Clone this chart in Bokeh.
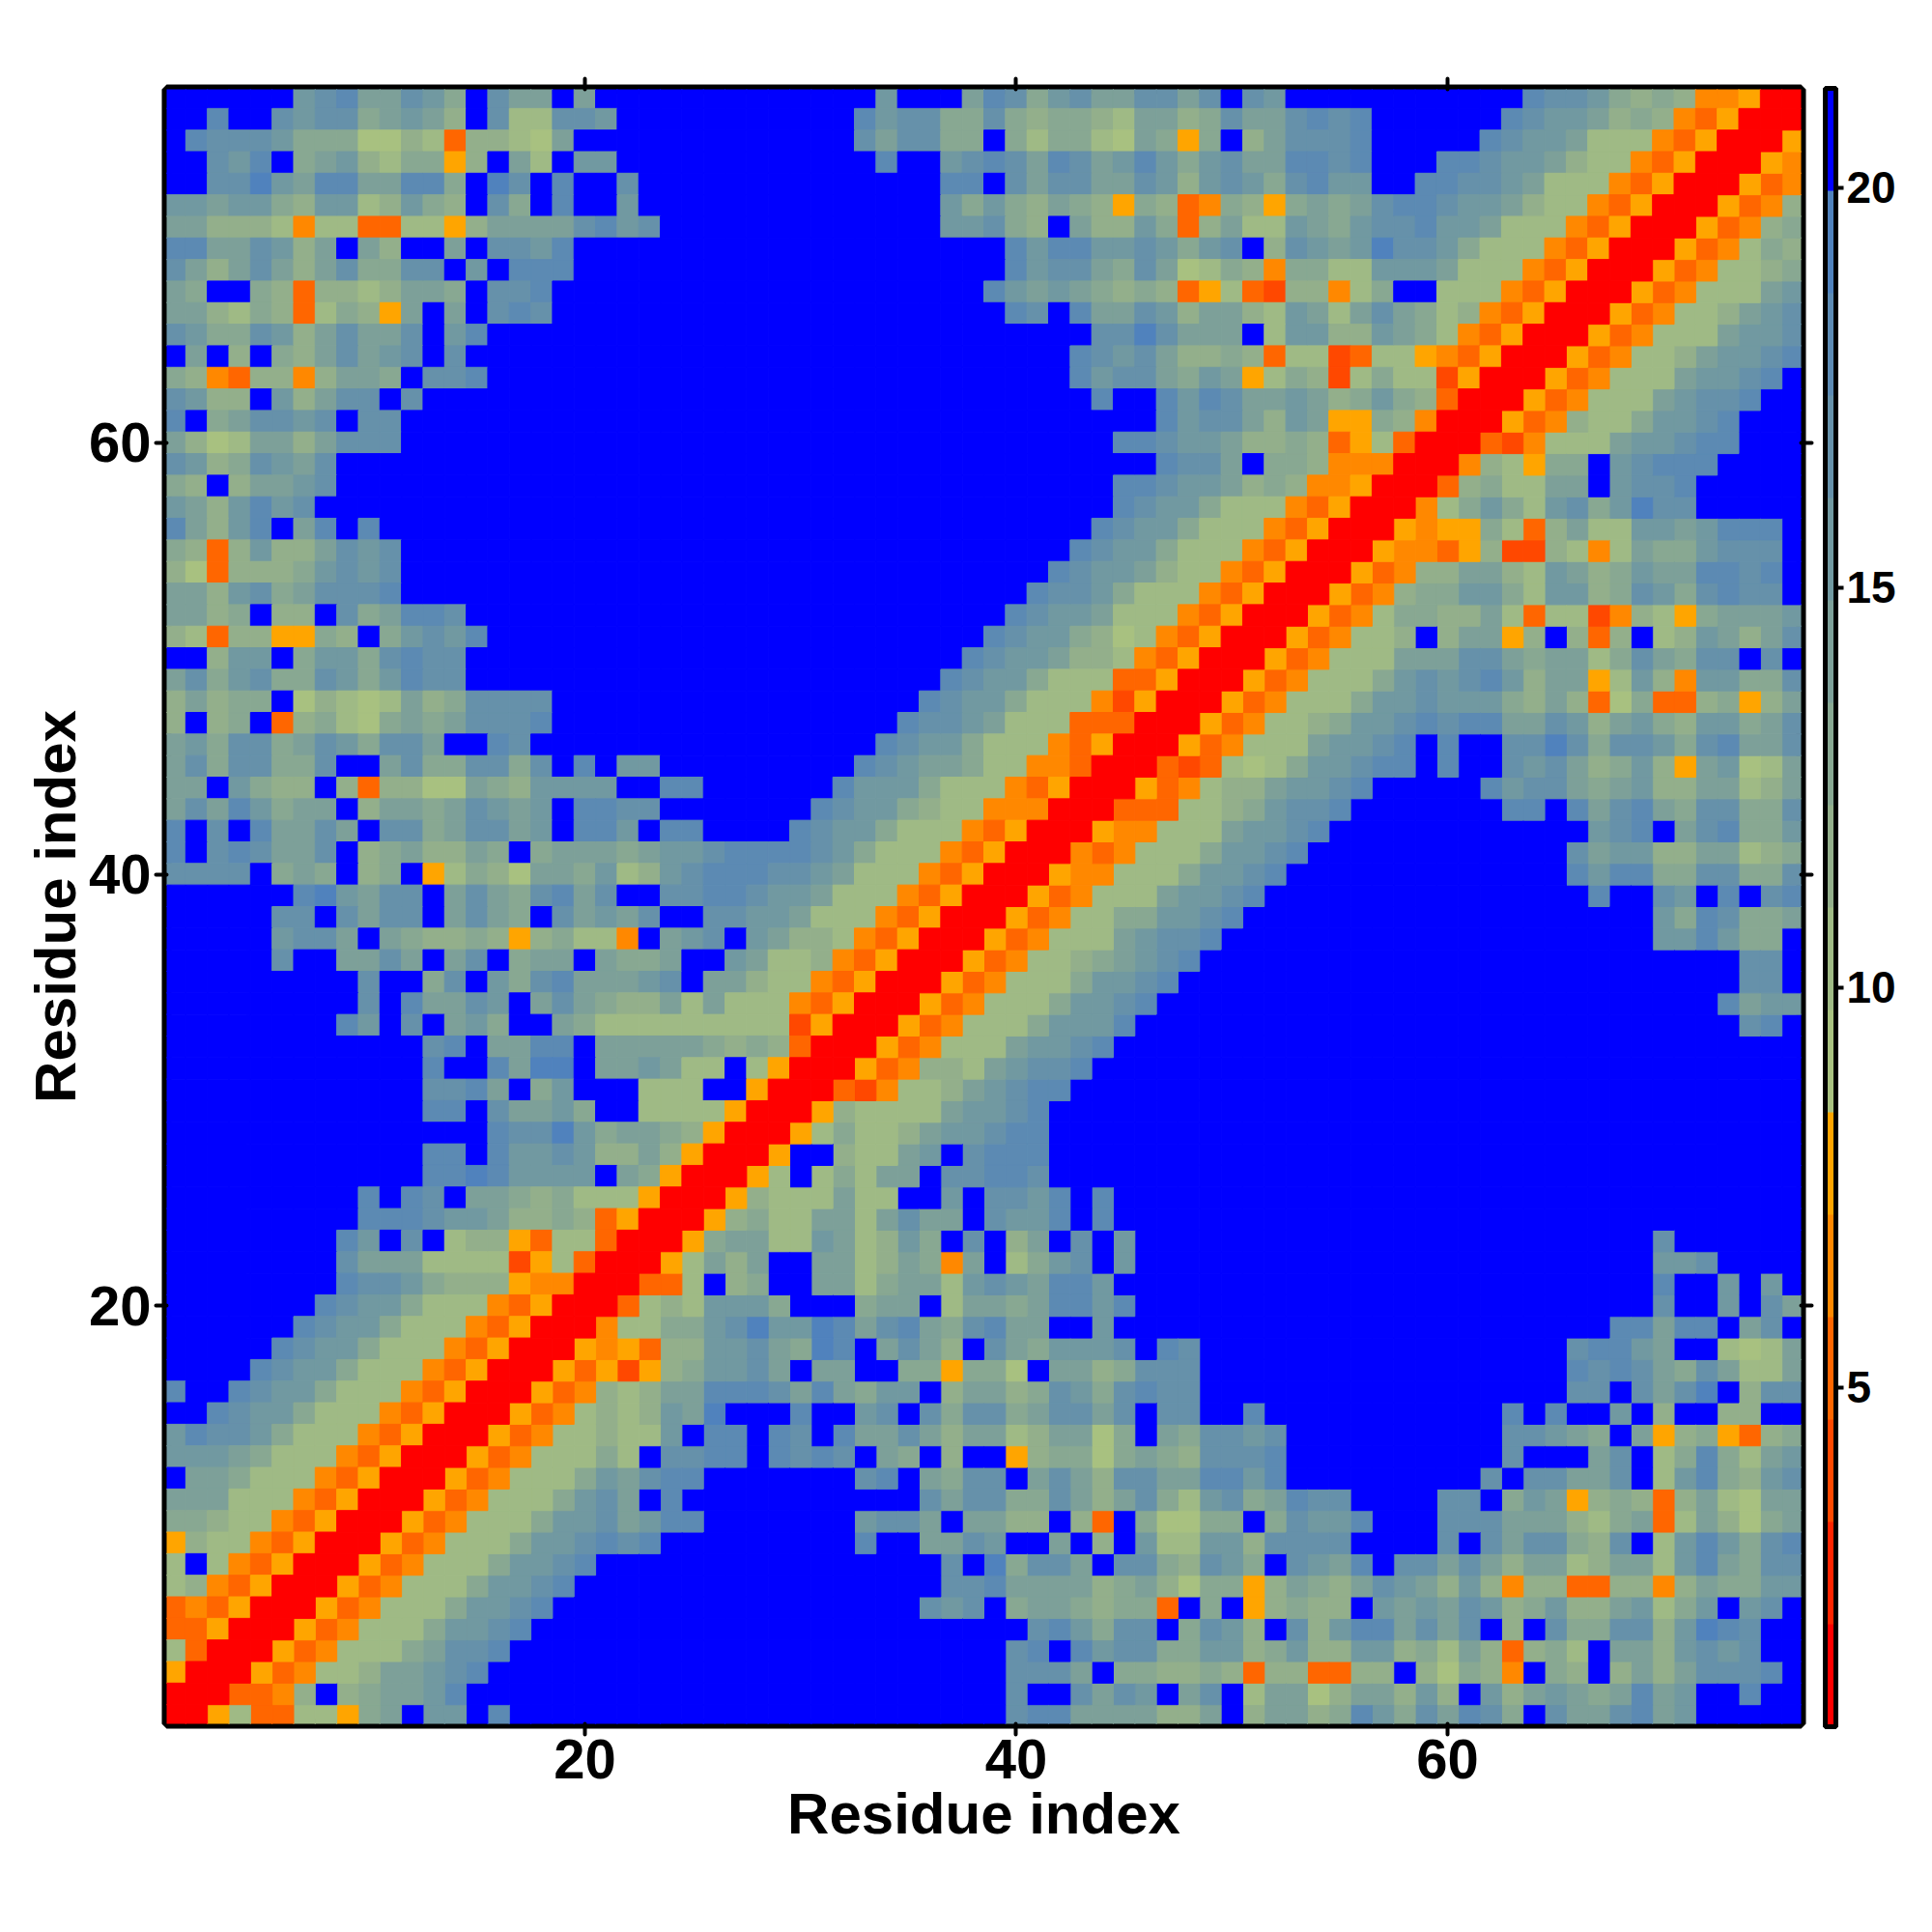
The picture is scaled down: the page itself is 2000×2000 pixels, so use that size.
from bokeh.plotting import figure
from bokeh.models import ColumnDataSource, LinearColorMapper, ColorBar, FixedTicker, LinearAxis, Range1d
from bokeh.embed import file_html
from bokeh.resources import INLINE

# Distance map of a 76-residue protein, lower-triangular rows from y=76 down to y=1.
# Each letter is a distance bin: 0-5 close (red..orange), a-i mid (green..steel), B far (blue). ~ = ten far cells.
rows_76_61 = [
 "BBBBBBfghe egfdBgeeBe ~ BBBfBBBehg dfgeeggegB gfBBBBBBBB BBBhggfdcd c44500",
 "BBhBBgfggd efecBgbbgg fBBBBBBBBB BBhfggddgd cddcbeecdg eeghghBBBB BBhgffecdc 43500",
 "Bhgggfddda acb3ccbaeB ~ BBgeggddBd bddbaed5dB ceggghBBBB Bhgffebbb4 3500",
 "BBgfhBdefc bdd5cBebBf fBBBBBBBBB BBBhBBfghg ehgefhfdfg eehhghBBBh hgffecbb43 500",
 "BBggifehhe ehhdBigBhB BgBBBBBBBB BBBBBBhhBg eggeegfcfg fdghffBBhh ggfebbb435 00",
 "ffeffdcffb cfdcBgdBhB BfBBBBBBBB BBBBBBfdfd cedc5dc34d c5dedeghhg ffecbb4350 0",
 "eecccb4bb3 3bb5ceeeeg hfgBBBBBBB BBBBBBffgd cBeccfd3ce bbfedfgghf febbb43500",
 "hheegfceBe cBBeBggfhB ~ BBBBBBBBBh fhhffgfdfg Bcgfefiggf dbbb43500",
 "gecegecegd dggBfBhhhB ~ BBBBBBBBBh fggedgeabd c4ddbbfffe bbb43500",
 "edBBdc3ccb ceedBgghBB ~ BBBBBBBBhf efedcdc35b 32cc4bdBBb bb43500",
 "eecbdc3bdc 5eBeBghgBB ~ BBBBBBBBBh gBheegfcee cbfebegedb c43500",
 "gfddgfcege egBfhBBBBB ~ ~ BBBggigeee Bbffccfedb 43500",
 "BeBcBdcege fgBgBBBBBB ~ ~ BBhgfgeccd c3bb23bb54 3500",
 "dc43cc4cee dBgghBBBBB ~ ~ BBhfggedfe 5bdc2bdbb2 500",
 "gfccBfcegg BgBBBBBBBB ~ ~ BBBhBBhfhg eefecdfdc3 00",
 "hBdeggfgBg gBBBBBBBBB ~ ~ BBBBBBhfgg ecfe55dc40 0",
]
rows_60_41 = [
 "ecabeecegg gBBBBBBBBB ~ ~ BBBBhhgffe ccdc35b300",
 "gfcdgfegBB ~ ~ ~ BBBBBBhgge Bddc44400",
 "dcBceefgBB ~ ~ ~ BBBBhhgffe cdc44500",
 "fecfhfgBBB ~ ~ ~ BBBBhgffdb bb43500",
 "hecfhBehBh ~ ~ ~ BBBhgffdbb b43500",
 "dc3cfccegf gBBBBBBBBB ~ ~ BBhgffdbbb 43500",
 "ca3cccdfgf gBBBBBBBBB ~ ~ Bhgffecbb4 3500",
 "eecfgdeggg hBBBBBBBBB ~ ~ hggfdbbb43 500",
 "eecdBccBgd ehhgBBBBBB ~ BBBBBBBBBh gffebbb435 00",
 "cb3cc55dcB dfgfhBBBBB ~ BBBBBBBBhg ffdcab4350 0",
 "BBcffBdffd ghggBBBBBB ~ BBBBBBBhgf feccb43500",
 "egdfgddgfd fhggBBBBBB ~ BBBBBBhgff dbbb33500",
 "cecddBacba becdggggBB ~ BBBBBhgffd bbb42500",
 "cBcdB3cdba dedeggghBB ~ BBBBhggfeb bb33300",
 "efdggdegfd ggeBBhgBBB ~ BBBhgffdbb b43500",
 "egdggddgBB egddggdgBh BffBBBBBBB BBhgfeedbb 44300",
 "eeBfdccBc3 ccaaedcfff fBBhhBBBBB Bhfffdbbb4 3500",
 "egehfdeeBc eedegfefBh hggBBBBBBB hgffdcbb44 400",
 "hBgBheegeB ggdeggefBh hfBhhBBBBh gffdbbb435 00",
 "hBghgeegBc deccedBdee edeffghhhh gfdbbb4350 0",
]
rows_40_21 = [
 "ggggBdedBc dB5bdcaeed fbcfghhhgg febbb43500",
 "BBBBBBhife ggBegedghe gBBgghhgff ebbb43500",
 "BBBBBggBge ggBegedBge fegBBggffe bbb43500",
 "BBBBBfggeB edccdc5cdb b4BefgBfec cb43500",
 "BBBBBgBBee geBegBdeeB eddeBBfebb c43500",
 "BBBBBBBBBg BBdgBfdghe eefgBeecbb 43500",
 "BBBBBBBBBg BheegfBege dccebebbb4 3500",
 "BBBBBBBBhf BgBefdBBed bbbbbbbbb2 500",
 "~ BBghBeehhB eeeeedcdc3 00",
 "~ BBhBBheiiB eefebbBb500",
 "~ BBggheBdfB BBbbbBB500",
 "~ BBhhBgeefd BBbbbb500",
 "~ BBBBBhggif deedc500",
 "~ BBhhBhffgf ccec500",
 "~ BBhhihffff Bed500",
 "BBBBBBBBBh BhgBeedcdb bb500",
 "BBBBBBBBBh hhgffeccdc 3500",
 "BBBBBBBBhf BgBbcc53bb 300",
 "BBBBBBBBge eebbbb25b3 00",
 "BBBBBBBBhg gfdccc54400",
]
rows_20_1 = [
 "BBBBBBBhgf fdbbb43500",
 "BBBBBBhgff dbbb43500",
 "BBBBBhgffd bbb43500",
 "BBBBhgffdb bb43500",
 "hBBhgffdbb b43500",
 "BBhgffdbbb 43500",
 "fhggfdbbb4 3500",
 "fffedbbb43 500",
 "Beedbbb435 00",
 "eeebbb4350 0",
 "ddcbb43500",
 "5cbb43500",
 "bBb43500",
 "bc43500",
 "343500",
 "33500",
 "b300",
 "500",
 "00",
 "0",
]
bin_order = "012345abcdefghiB"
palette = ["#ff0000", "#ff2400", "#ff4800", "#ff6600", "#ff8800", "#ffa500",
           "#a8c180", "#9fba85", "#93af8b", "#88a892", "#7da099", "#7199a1",
           "#6691aa", "#5c8ab3", "#5082bd", "#0000ff"]
dist_low, dist_high = 0.76, 21.24
bar_ticks = [5, 10, 15, 20]
axis_ticks = [20, 40, 60]
axis_title = "Residue index"

all_rows = rows_76_61 + rows_60_41 + rows_40_21 + rows_20_1
step = (dist_high - dist_low) / 16
xs, ys, vals = [], [], []
bad = []
for i, s in enumerate(all_rows):
    y = 76 - i
    s = s.replace("~", "B" * 10).replace(" ", "")
    if len(s) != y:
        bad.append((y, len(s)))
    for j, ch in enumerate(s):
        x = j + 1
        v = dist_low + (bin_order.index(ch) + 0.5) * step
        xs.append(x); ys.append(y); vals.append(v)
        if x != y:
            xs.append(y); ys.append(x); vals.append(v)
if bad:
    raise SystemExit("bad rows: %r" % bad)

mapper = LinearColorMapper(palette=palette, low=dist_low, high=dist_high)
src = ColumnDataSource(dict(x=xs, y=ys, v=vals))

FONT = "Liberation Sans"
p = figure(frame_width=1692, frame_height=1692, output_backend="svg", toolbar_location=None,
           x_range=Range1d(0.612, 76.388), y_range=Range1d(0.612, 76.388),
           min_border_left=172, min_border_top=92, min_border_bottom=100, min_border_right=10,
           background_fill_color=None, border_fill_color="white")
p.rect("x", "y", width=1, height=1, source=src,
       fill_color={"field": "v", "transform": mapper},
       line_color={"field": "v", "transform": mapper}, line_width=1)
p.grid.visible = False
p.outline_line_color = "black"
p.outline_line_width = 10

def style(ax, labels=True, standoff=5, title_standoff=-2):
    ax.ticker = FixedTicker(ticks=axis_ticks)
    ax.axis_line_color = None
    ax.major_tick_in = 0
    ax.major_tick_out = 11
    ax.major_tick_line_width = 4
    ax.major_tick_line_color = "black"
    ax.major_tick_line_cap = "round"
    ax.minor_tick_line_color = None
    ax.major_label_text_font = FONT
    ax.major_label_text_font_style = "bold"
    ax.major_label_text_font_size = "58px"
    ax.major_label_text_color = "black"
    ax.major_label_standoff = standoff
    ax.axis_label_text_font = FONT
    ax.axis_label_text_font_style = "bold"
    ax.axis_label_text_font_size = "60px"
    ax.axis_label_text_color = "black"
    ax.axis_label_standoff = title_standoff
    if not labels:
        ax.major_label_text_font_size = "0px"
        ax.major_label_text_color = None

style(p.xaxis[0], standoff=5, title_standoff=0)
style(p.yaxis[0], standoff=5, title_standoff=-2)
p.xaxis[0].axis_label = axis_title
p.yaxis[0].axis_label = axis_title
p.yaxis[0].major_label_orientation = "horizontal"

top = LinearAxis(); style(top, False); p.add_layout(top, "above")
right = LinearAxis(); style(right, False); p.add_layout(right, "right")

cb = ColorBar(color_mapper=mapper, width=11, height=1696, padding=0, location=(14, -3),
              ticker=FixedTicker(ticks=bar_ticks),
              bar_line_color="black", bar_line_width=5,
              major_tick_line_color="black", major_tick_line_width=4,
              major_tick_in=0, major_tick_out=8,
              minor_tick_line_color=None,
              major_label_text_font=FONT, major_label_text_font_style="bold",
              major_label_text_font_size="46px", major_label_text_color="black",
              label_standoff=3, border_line_color=None, background_fill_color=None)
p.add_layout(cb, "right")

open("out.html", "w").write(file_html(p, INLINE))
